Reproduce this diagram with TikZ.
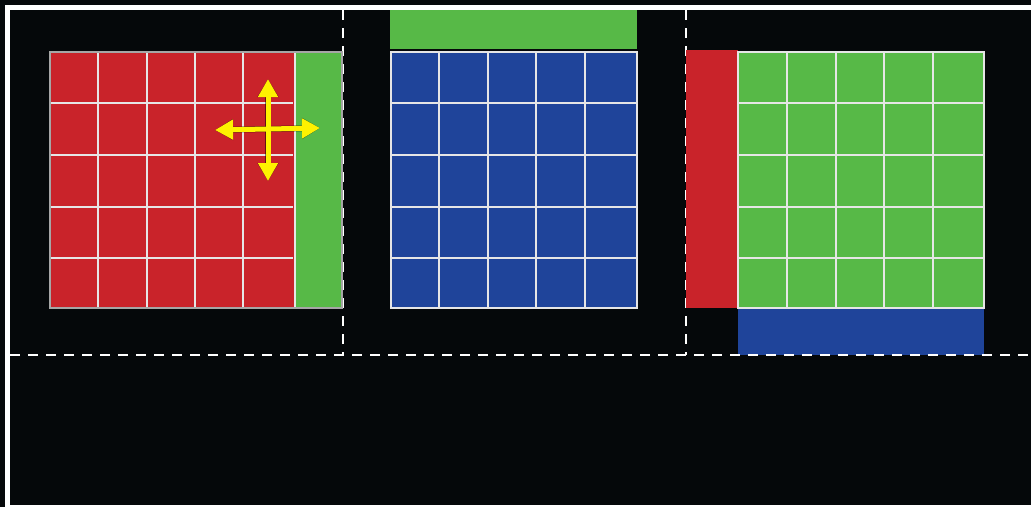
\documentclass[tikz,border=0pt]{standalone}
\usetikzlibrary{arrows.meta}
\definecolor{bg}{HTML}{05080A}
\definecolor{cred}{HTML}{C9232A}
\definecolor{cgreen}{HTML}{57B947}
\definecolor{cblue}{HTML}{1F449A}
\definecolor{ayellow}{HTML}{FFF200}
\definecolor{gline}{HTML}{E6E6E6}
\begin{document}
\begin{tikzpicture}[x=1pt,y=-1pt,
  block/.style={inner sep=0pt, outer sep=0pt, draw=none, anchor=north west},
  gridln/.style={gline, line width=1.8pt},
  divider/.style={white, line width=2pt, dash pattern=on 10pt off 8pt},
  yarrow/.style={ayellow, line width=5pt, -{Triangle[length=18pt,width=19pt]}},
  yshadow/.style={black, opacity=0.5, line width=6pt, -{Triangle[length=18pt,width=20pt]}}]
\useasboundingbox (0,0) rectangle (1031,507);
\fill[bg] (0,0) rectangle (1031,507);
% outer frame
\draw[white, line width=5pt] (7.5,7.5) rectangle (1045,507.5);
% vertical dividers
\draw[divider] (343,10) -- (343,355);
\draw[divider] (686,10) -- (686,355);

% ---- left panel
\node[block, fill=cred, minimum width=245pt, minimum height=256pt] (redgrid) at (50,52) {};
\node[block, fill=cgreen, minimum width=47pt, minimum height=256pt] (greencol) at (295,52) {};
\foreach \x in {98,147,195,243} \draw[gridln] (\x,52) -- (\x,308);
\foreach \y in {103,155,207,258} \draw[gridln] (50,\y) -- (293,\y);
\draw[gridln] (295,52) -- (295,308);
\draw[gray!70, line width=1.5pt] (50,52) rectangle (342,308);

% ---- middle panel
\node[block, fill=cgreen, minimum width=247pt, minimum height=39pt] (greenbar) at (390,10) {};
\node[block, fill=cblue, minimum width=246pt, minimum height=256pt] (bluegrid) at (391,52) {};
\foreach \x in {439,488,536,585} \draw[gridln] (\x,52) -- (\x,308);
\foreach \y in {103,155,207,258} \draw[gridln] (391,\y) -- (637,\y);
\draw[gridln] (391,52) rectangle (637,308);

% ---- right panel
\node[block, fill=cred, minimum width=52pt, minimum height=258pt] (redcol) at (686,50) {};
\node[block, fill=cgreen, minimum width=246pt, minimum height=256pt] (greengrid) at (738,52) {};
\node[block, fill=cblue, minimum width=246pt, minimum height=47pt] (bluebar) at (738,308) {};
\foreach \x in {787,836,884,933} \draw[gridln] (\x,52) -- (\x,308);
\foreach \y in {103,155,207,258} \draw[gridln] (738,\y) -- (984,\y);
\draw[gridln] (738,52) rectangle (984,308);

% horizontal divider
\draw[divider] (10,355) -- (1031,355);

% ---- yellow move arrows
\coordinate (c) at (268,129);
\coordinate (up) at (268,79);
\coordinate (dn) at (268,181);
\coordinate (lf) at (215,130);
\coordinate (rt) at (320,128);
\begin{scope}[shift={(3,4)}]
  \draw[yshadow] (c) -- (up);
  \draw[yshadow] (c) -- (dn);
  \draw[yshadow] (c) -- (lf);
  \draw[yshadow] (c) -- (rt);
\end{scope}
\draw[yarrow] (c) -- (up);
\draw[yarrow] (c) -- (dn);
\draw[yarrow] (c) -- (lf);
\draw[yarrow] (c) -- (rt);
\end{tikzpicture}
\end{document}
